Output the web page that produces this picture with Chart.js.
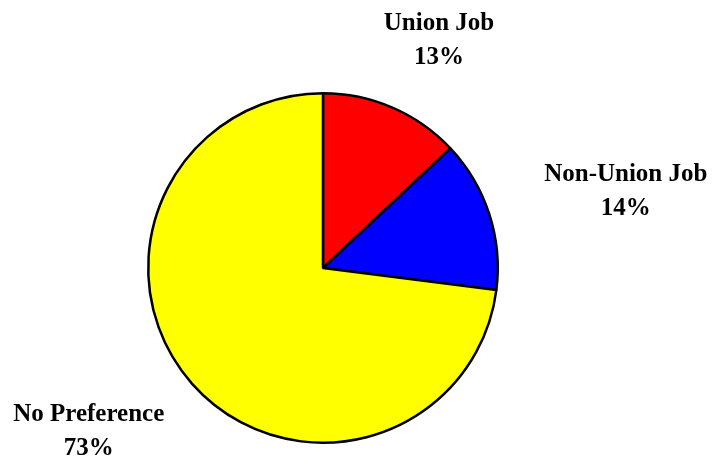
<!DOCTYPE html>
<html lang="en">
<head>
    <meta charset="UTF-8">
    <title>Job Preference</title>
    <script src="https://cdn.jsdelivr.net/npm/chart.js"></script>
    <style>
        html, body { margin: 0; padding: 0; background: #fff; }
        #wrap { width: 713px; height: 466px; position: relative; }
    </style>
</head>
<body>
    <div id="wrap"><canvas id="myChart"></canvas></div>

    <script>
        const categories = ['Union Job', 'Non-Union Job', 'No Preference'];
        const percents = [13, 14, 73];
        const sliceColors = ['#ff0000', '#0000ff', '#ffff00'];

        // draws "name / xx%" outside each slice, pushed away along the slice's middle angle
        const outsideLabels = {
            id: 'outsideLabels',
            afterDatasetsDraw(chart) {
                const ctx = chart.ctx;
                const meta = chart.getDatasetMeta(0);
                const lineH = 34;
                ctx.save();
                ctx.font = 'bold 25px "Liberation Serif", "Times New Roman", serif';
                ctx.fillStyle = '#000';
                ctx.textAlign = 'center';
                ctx.textBaseline = 'middle';
                meta.data.forEach((arc, i) => {
                    const p = arc.getProps(['x', 'y', 'startAngle', 'endAngle', 'outerRadius'], true);
                    const mid = (p.startAngle + p.endAngle) / 2;
                    const dx = Math.cos(mid), dy = Math.sin(mid);
                    const lines = [categories[i], percents[i] + '%'];
                    const w = Math.max(...lines.map(t => ctx.measureText(t).width));
                    const h = 50;
                    const cx = p.x + dx * (p.outerRadius + 62 + w / 2);
                    const cy = p.y + dy * (p.outerRadius + 48 + h / 2);
                    ctx.fillText(lines[0], cx, cy - lineH / 2);
                    ctx.fillText(lines[1], cx, cy + lineH / 2);
                });
                ctx.restore();
            }
        };

        new Chart(document.getElementById('myChart').getContext('2d'), {
            type: 'pie',
            data: {
                labels: categories,
                datasets: [{
                    data: percents,
                    backgroundColor: sliceColors,
                    borderColor: '#000',
                    borderWidth: 2.5
                }]
            },
            options: {
                responsive: true,
                maintainAspectRatio: false,
                animation: false,
                layout: { padding: { left: 147, right: 214, top: 92, bottom: 22 } },
                plugins: {
                    legend: { display: false },
                    tooltip: { enabled: false }
                }
            },
            plugins: [outsideLabels]
        });
    </script>
</body>
</html>
